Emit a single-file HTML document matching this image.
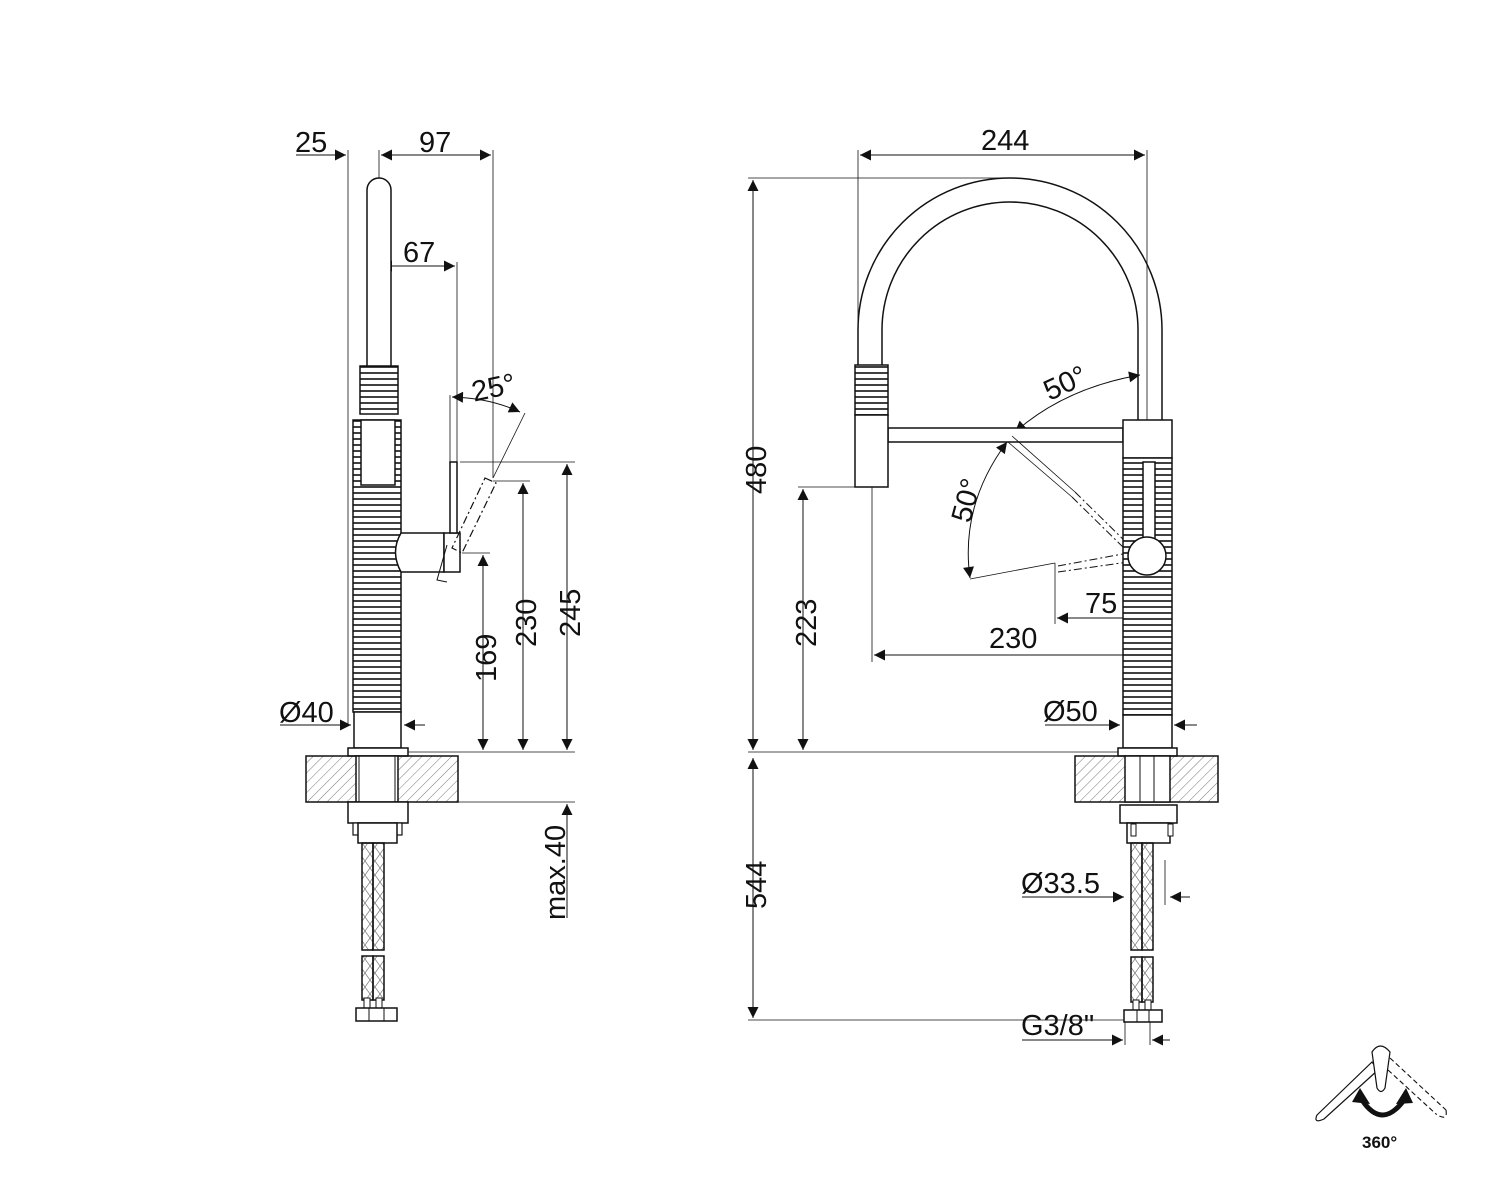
<!DOCTYPE html>
<html><head><meta charset="utf-8"><style>
html,body{margin:0;padding:0;background:#fff;}
svg{display:block;}
text{font-family:"Liberation Sans",sans-serif;fill:#111;}
</style></head><body>
<svg width="1500" height="1199" viewBox="0 0 1500 1199" xmlns="http://www.w3.org/2000/svg">
<defs>
<pattern id="h" width="7" height="7" patternUnits="userSpaceOnUse" patternTransform="rotate(45)">
<line x1="0" y1="0" x2="0" y2="7" stroke="#555" stroke-width="0.8"/>
</pattern>
<pattern id="rib" width="10" height="6" patternUnits="userSpaceOnUse">
<rect width="10" height="6" fill="#fff"/><line x1="0" y1="1" x2="10" y2="1" stroke="#111" stroke-width="1.6"/>
</pattern>
<pattern id="braid" width="10" height="14" patternUnits="userSpaceOnUse">
<path d="M0 0 L10 14 M10 0 L0 14" stroke="#777" stroke-width="0.7" fill="none"/>
</pattern>
<marker id="a" viewBox="0 0 10 10" refX="10" refY="5" markerWidth="17" markerHeight="11" orient="auto-start-reverse" markerUnits="userSpaceOnUse">
<path d="M0 0 L10 5 L0 10 Z" fill="#111"/>
</marker>
</defs>

<g stroke="#111" fill="none" stroke-width="1">
<!-- ===== LEFT VIEW ===== -->
<line x1="348" y1="150" x2="348" y2="725" stroke-width="0.8"/>
<line x1="379" y1="150" x2="379" y2="178" stroke-width="0.8"/>
<line x1="493" y1="150" x2="493" y2="478" stroke-width="0.8"/>
<line x1="379" y1="262" x2="379" y2="290" stroke-width="0.8"/>
<line x1="457" y1="262" x2="457" y2="462" stroke-width="0.8"/>
<line x1="450" y1="395" x2="450" y2="462" stroke-width="0.8"/>
<line x1="460" y1="462" x2="575" y2="462" stroke-width="0.8"/>
<line x1="493" y1="481" x2="530" y2="481" stroke-width="0.8"/>
<line x1="462" y1="553" x2="490" y2="553" stroke-width="0.8"/>
<line x1="408" y1="752" x2="575" y2="752" stroke-width="0.8"/>
<line x1="458" y1="802" x2="575" y2="802" stroke-width="0.8"/>
<line x1="296" y1="155" x2="346" y2="155" marker-end="url(#a)"/>
<line x1="381" y1="155" x2="491" y2="155" marker-start="url(#a)" marker-end="url(#a)"/>
<line x1="381" y1="266" x2="455" y2="266" marker-start="url(#a)" marker-end="url(#a)"/>
<path d="M452 397 Q490 398 520 412" marker-start="url(#a)" marker-end="url(#a)"/>
<line x1="525" y1="413" x2="493" y2="478" stroke-width="0.8"/>
<line x1="483" y1="555" x2="483" y2="750" marker-start="url(#a)" marker-end="url(#a)"/>
<line x1="523" y1="483" x2="523" y2="750" marker-start="url(#a)" marker-end="url(#a)"/>
<line x1="567" y1="464" x2="567" y2="750" marker-start="url(#a)" marker-end="url(#a)"/>
<line x1="567" y1="918" x2="567" y2="804" marker-end="url(#a)"/>
<line x1="280" y1="725" x2="351" y2="725" marker-end="url(#a)"/>
<line x1="425" y1="725" x2="404" y2="725" marker-end="url(#a)"/>

<path d="M367 368 L367 190 A12 12 0 0 1 391 190 L391 368" fill="#fff" stroke-width="1.5"/>
<rect x="360" y="366" width="38" height="48" fill="url(#rib)" stroke-width="1.5"/>
<rect x="353" y="420" width="48" height="292" fill="url(#rib)" stroke-width="1.5"/>
<rect x="361" y="420" width="34" height="65" fill="#fff" stroke-width="1.5"/>
<rect x="354" y="712" width="47" height="36" fill="#fff" stroke-width="1.5"/>
<rect x="348" y="748" width="60" height="8" fill="#fff" stroke-width="1.5"/>
<path d="M401 533 L444 533 L444 572 L401 572 Q390 552 401 533 Z" fill="#fff" stroke-width="1.5"/>
<rect x="444" y="533" width="16" height="39" fill="#fff" stroke-width="1.5"/>
<rect x="450" y="462" width="7" height="71" fill="#fff" stroke-width="1.5"/>
<g stroke-dasharray="8,3,2,3" stroke-width="1.2">
<path d="M485 478 L496 483 L462 553 L452 548 Z"/>
</g>
<path d="M447 545 L437 580 L447 582" stroke-width="1"/>
<rect x="306" y="756" width="152" height="46" fill="url(#h)" stroke-width="1.5"/>
<rect x="356" y="756" width="42" height="46" fill="#fff" stroke-width="1.5"/>
<line x1="359" y1="756" x2="359" y2="802"/><line x1="395" y1="756" x2="395" y2="802"/>
<rect x="348" y="802" width="60" height="21" fill="#fff" stroke-width="1.5"/>
<rect x="353" y="823" width="49" height="12" fill="#fff" stroke-width="1.2"/>
<rect x="358" y="823" width="39" height="20" fill="#fff" stroke-width="1.5"/>
<rect x="362" y="843" width="11" height="107" fill="url(#braid)" stroke-width="1.5"/>
<rect x="373" y="843" width="11" height="107" fill="url(#braid)" stroke-width="1.5"/>
<rect x="362" y="956" width="11" height="44" fill="url(#braid)" stroke-width="1.5"/>
<rect x="373" y="956" width="11" height="44" fill="url(#braid)" stroke-width="1.5"/>
<rect x="364" y="998" width="6" height="10" fill="#fff"/><rect x="376" y="998" width="6" height="10" fill="#fff"/>
<rect x="356" y="1008" width="41" height="13" fill="#fff" stroke-width="1.5"/>
<line x1="369" y1="1008" x2="369" y2="1021"/><line x1="384" y1="1008" x2="384" y2="1021"/>

<!-- ===== RIGHT VIEW ===== -->
<line x1="858" y1="150" x2="858" y2="365" stroke-width="0.8"/>
<line x1="1147" y1="150" x2="1147" y2="420" stroke-width="0.8"/>
<line x1="1147" y1="540" x2="1147" y2="660" stroke-width="0.8"/>
<line x1="748" y1="178" x2="1005" y2="178" stroke-width="0.8"/>
<line x1="798" y1="487" x2="855" y2="487" stroke-width="0.8"/>
<line x1="748" y1="752" x2="1123" y2="752" stroke-width="0.8"/>
<line x1="748" y1="1020" x2="1130" y2="1020" stroke-width="0.8"/>
<line x1="872" y1="487" x2="872" y2="662" stroke-width="0.8"/>
<line x1="1055" y1="563" x2="1055" y2="624" stroke-width="0.8"/>
<line x1="860" y1="155" x2="1145" y2="155" marker-start="url(#a)" marker-end="url(#a)"/>
<line x1="753" y1="180" x2="753" y2="750" marker-start="url(#a)" marker-end="url(#a)"/>
<line x1="803" y1="489" x2="803" y2="750" marker-start="url(#a)" marker-end="url(#a)"/>
<line x1="753" y1="758" x2="753" y2="1018" marker-start="url(#a)" marker-end="url(#a)"/>
<line x1="874" y1="655" x2="1145" y2="655" marker-start="url(#a)" marker-end="url(#a)"/>
<line x1="1057" y1="618" x2="1145" y2="618" marker-start="url(#a)" marker-end="url(#a)"/>
<line x1="1045" y1="725" x2="1120" y2="725" marker-end="url(#a)"/>
<line x1="1197" y1="725" x2="1174" y2="725" marker-end="url(#a)"/>
<line x1="1022" y1="897" x2="1124" y2="897" marker-end="url(#a)"/>
<line x1="1190" y1="897" x2="1170" y2="897" marker-end="url(#a)"/>
<line x1="1125" y1="1022" x2="1125" y2="1045" stroke-width="0.8"/>
<line x1="1150" y1="1022" x2="1150" y2="1045" stroke-width="0.8"/>
<line x1="1165" y1="860" x2="1165" y2="905" stroke-width="0.8"/>
<line x1="1022" y1="1040" x2="1123" y2="1040" marker-end="url(#a)"/>
<line x1="1170" y1="1040" x2="1152" y2="1040" marker-end="url(#a)"/>
<path d="M1015 432 Q1065 388 1140 375" marker-start="url(#a)" marker-end="url(#a)"/>
<path d="M1007 442 Q960 505 970 578" marker-start="url(#a)" marker-end="url(#a)"/>
<line x1="970" y1="579" x2="1055" y2="563" stroke-width="0.8"/>
<path d="M858 365 L858 330 A152 152 0 0 1 1162 330 L1162 420" fill="none" stroke-width="1.5"/>
<path d="M882 365 L882 330 A128 128 0 0 1 1138 330 L1138 420" fill="none" stroke-width="1.5"/>
<rect x="888" y="428" width="235" height="14" fill="#fff" stroke-width="1.5"/>
<line x1="1012" y1="436" x2="1075" y2="492" stroke-width="0.8"/>
<line x1="1008" y1="442" x2="1072" y2="497" stroke-width="0.8"/>
<path d="M1075 492 L1132 548 M1072 497 L1128 552" stroke-dasharray="8,3,2,3" stroke-width="1"/>
<path d="M1058 566 L1128 553 M1058 572 L1128 562" stroke-dasharray="8,3,2,3" stroke-width="1"/>
<rect x="855" y="365" width="33" height="50" fill="url(#rib)" stroke-width="1.5"/>
<rect x="855" y="415" width="33" height="72" fill="#fff" stroke-width="1.5"/>
<rect x="1123" y="420" width="49" height="38" fill="#fff" stroke-width="1.5"/>
<rect x="1123" y="458" width="49" height="257" fill="url(#rib)" stroke-width="1.5"/>
<rect x="1143" y="462" width="12" height="78" fill="#fff" stroke-width="1.5"/>
<circle cx="1147" cy="556" r="19" fill="#fff" stroke-width="1.5"/>
<rect x="1123" y="715" width="49" height="33" fill="#fff" stroke-width="1.5"/>
<rect x="1118" y="748" width="59" height="8" fill="#fff" stroke-width="1.5"/>
<rect x="1075" y="756" width="143" height="46" fill="url(#h)" stroke-width="1.5"/>
<rect x="1125" y="756" width="45" height="46" fill="#fff" stroke-width="1.5"/>
<line x1="1140" y1="756" x2="1140" y2="802"/><line x1="1154" y1="756" x2="1154" y2="802"/>
<rect x="1120" y="805" width="57" height="18" fill="#fff" stroke-width="1.5"/>
<rect x="1127" y="823" width="43" height="20" fill="#fff" stroke-width="1.5"/>
<rect x="1131" y="824" width="5" height="12" fill="#fff"/><rect x="1168" y="824" width="5" height="12" fill="#fff"/>
<rect x="1131" y="843" width="11" height="107" fill="url(#braid)" stroke-width="1.5"/>
<rect x="1142" y="843" width="11" height="107" fill="url(#braid)" stroke-width="1.5"/>
<rect x="1131" y="957" width="11" height="45" fill="url(#braid)" stroke-width="1.5"/>
<rect x="1142" y="957" width="11" height="45" fill="url(#braid)" stroke-width="1.5"/>
<rect x="1133" y="1000" width="6" height="10" fill="#fff"/><rect x="1145" y="1000" width="6" height="10" fill="#fff"/>
<rect x="1124" y="1010" width="38" height="12" fill="#fff" stroke-width="1.5"/>
<line x1="1137" y1="1010" x2="1137" y2="1022"/><line x1="1149" y1="1010" x2="1149" y2="1022"/>

<!-- 360 icon -->
<path d="M1317 1115 L1372 1062 L1378 1070 L1324 1119 Q1313 1124 1317 1115 Z" fill="#fff" stroke-width="1.2"/>
<path d="M1372 1052 Q1380 1040 1390 1052 L1385 1088 Q1381 1095 1377 1088 Z" fill="#fff" stroke-width="1.2"/>
<path d="M1390 1058 L1446 1110 M1388 1070 L1436 1114 M1446 1110 Q1448 1122 1436 1114" stroke-dasharray="5,3" stroke-width="1.1"/>
<path d="M1362 1100 Q1382 1130 1404 1100" stroke-width="5"/>
</g>
<path d="M1352 1102 L1360 1088 L1370 1104 Z M1396 1104 L1406 1088 L1413 1103 Z" fill="#111"/>

<g font-size="29">
<text x="295" y="152">25</text>
<text x="419" y="152">97</text>
<text x="403" y="262">67</text>
<text x="472" y="398" transform="rotate(-12 490 390)">25°</text>
<text transform="translate(496 682) rotate(-90)">169</text>
<text transform="translate(536 647) rotate(-90)">230</text>
<text transform="translate(580 637) rotate(-90)">245</text>
<text transform="translate(565 920) rotate(-90)">max.40</text>
<text x="279" y="722">Ø40</text>
<text x="981" y="150">244</text>
<text transform="translate(766 494) rotate(-90)">480</text>
<text transform="translate(816 647) rotate(-90)">223</text>
<text transform="translate(766 909) rotate(-90)">544</text>
<text x="989" y="648">230</text>
<text x="1085" y="613">75</text>
<text x="1043" y="721">Ø50</text>
<text x="1021" y="893">Ø33.5</text>
<text x="1021" y="1035">G3/8"</text>
<text x="1044" y="393" transform="rotate(-25 1065 385)">50°</text>
<text transform="translate(970 524) rotate(-75)">50°</text>
</g>
<text x="1362" y="1148" font-size="17" font-weight="bold">360°</text>
</svg>
</body></html>
